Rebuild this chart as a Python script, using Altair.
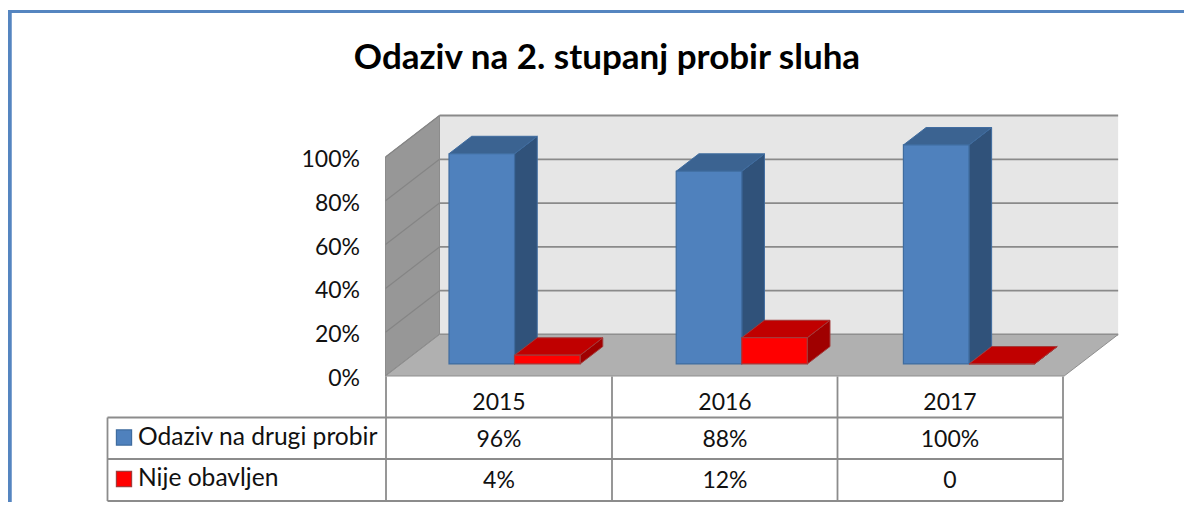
import altair as alt
import pandas as pd

TITLE = "Odaziv na 2. stupanj probir sluha"
YEARS = ["2015", "2016", "2017"]
SERIES = ["Odaziv na drugi probir", "Nije obavljen"]
RESPONSE = [96, 88, 100]
NOT_DONE = [4, 12, 0]
RESPONSE_LABELS = ["96%", "88%", "100%"]
NOT_DONE_LABELS = ["4%", "12%", "0"]
TICKS = [0, 20, 40, 60, 80, 100]

FONT = "Lato"
GRID = "#8a8a8a"
TABLE = "#8c8c8c"

# scale geometry (page px <-> data units)
W, H = 1176, 494
X0, UX = 385.5, 227.2      # page x of category 0, px per category
Y0, UY = 376.0, 2.19       # page y of 0 %, px per percent
DX, DY = 54 / UX, 41.5 / UY  # full depth of the 3-D box in data units
def ux(px): return (px - X0) / UX
def uy(py): return (Y0 - py) / UY
XDOM = [ux(8), ux(8 + W)]
YDOM = [uy(8 + H), uy(8)]
WALL = 2.987
GAP, BAR = 0.2106, 0.2885
D0, D1 = 0.29, 0.71

xs = alt.Scale(domain=XDOM, nice=False, zero=False)
ys = alt.Scale(domain=YDOM, nice=False, zero=False)


def v_rows(face, x0, x1, a0, a1, b0, b1, fill, stroke):
    return [dict(face=face, x=x0, y=a0, y2=a1, fill=fill, stroke=stroke),
            dict(face=face, x=x1, y=b0, y2=b1, fill=fill, stroke=stroke)]


def h_rows(face, y0, y1, a0, a1, b0, b1, fill, stroke):
    return [dict(face=face, y=y0, x=a0, x2=a1, fill=fill, stroke=stroke),
            dict(face=face, y=y1, x=b0, x2=b1, fill=fill, stroke=stroke)]


def area_layer(rows, horizontal):
    df = pd.DataFrame(rows)
    kw = dict(x=alt.X("x:Q", scale=xs, axis=None),
              y=alt.Y("y:Q", scale=ys, axis=None),
              fill=alt.Fill("fill:N", scale=None),
              stroke=alt.Stroke("stroke:N", scale=None),
              detail="face:N")
    if horizontal:
        kw["x2"] = "x2:Q"
        m = alt.Chart(df).mark_area(orient="horizontal", strokeWidth=1, opacity=1, interpolate="linear")
    else:
        kw["y2"] = "y2:Q"
        m = alt.Chart(df).mark_area(orient="vertical", strokeWidth=1, opacity=1, interpolate="linear")
    return m.encode(**kw)


def rules(rows, color, width):
    df = pd.DataFrame(rows)
    return alt.Chart(df).mark_rule(color=color, strokeWidth=width).encode(
        x=alt.X("x:Q", scale=xs, axis=None), x2="x2:Q",
        y=alt.Y("y:Q", scale=ys, axis=None), y2="y2:Q")


def texts(rows, align="center", size=23, **kw):
    df = pd.DataFrame(rows)
    return alt.Chart(df).mark_text(align=align, baseline="middle", font=FONT,
                                   fontSize=size, color="#111111", **kw).encode(
        x=alt.X("x:Q", scale=xs, axis=None),
        y=alt.Y("y:Q", scale=ys, axis=None),
        text="t:N")


# box walls
left_wall = v_rows("left", 0, DX, 0, 100, DY, 100 + DY, "#979797", "#8c8c8c")
floor = h_rows("floor", 0, DY, 0, WALL, DX, WALL + DX, "#b0b0b0", "#8f8f8f")
back = pd.DataFrame([dict(x=DX, x2=WALL + DX, y=DY, y2=100 + DY)])
back_wall = alt.Chart(back).mark_rect(color="#e6e6e6").encode(
    x=alt.X("x:Q", scale=xs, axis=None), x2="x2:Q",
    y=alt.Y("y:Q", scale=ys, axis=None), y2="y2:Q")
grid_back = rules([dict(x=DX, x2=WALL + DX, y=t + DY, y2=t + DY) for t in TICKS], GRID, 1.8)
grid_left = pd.DataFrame(
    [r for t in TICKS for r in (dict(t=t, x=0, y=t), dict(t=t, x=DX, y=t + DY))])
grid_side = alt.Chart(grid_left).mark_line(color="#858585", strokeWidth=1.2).encode(
    x=alt.X("x:Q", scale=xs, axis=None), y=alt.Y("y:Q", scale=ys, axis=None), detail="t:N")

# bars
sides, tops, fronts = [], [], []
COL = [dict(front="#4f81bd", top="#3b6391", side="#30527a", stroke="#3f6c9f"),
       dict(front="#ff0000", top="#c00000", side="#a00000", stroke="#a33a3a")]
dx0, dx1 = D0 * DX, D1 * DX
dy0, dy1 = D0 * DY, D1 * DY
for i in range(len(YEARS)):
    for s, vals in enumerate([RESPONSE, NOT_DONE]):
        v = vals[i]
        c = COL[s]
        xa = i + GAP + s * BAR + dx0
        xb = xa + BAR
        d_x, d_y = dx1 - dx0, dy1 - dy0
        sides += v_rows(f"s{i}{s}", xb, xb + d_x, dy0, dy0 + v, dy0 + d_y, dy0 + v + d_y, c["side"], c["stroke"])
        tops += h_rows(f"t{i}{s}", dy0 + v, dy0 + v + d_y, xa, xb, xa + d_x, xb + d_x, c["top"], c["stroke"])
        fronts.append(dict(x=xa, x2=xb, y=dy0, y2=dy0 + v, fill=c["front"], stroke=c["stroke"]))
front_layer = alt.Chart(pd.DataFrame(fronts)).mark_rect(strokeWidth=1.2).encode(
    x=alt.X("x:Q", scale=xs, axis=None), x2="x2:Q",
    y=alt.Y("y:Q", scale=ys, axis=None), y2="y2:Q",
    fill=alt.Fill("fill:N", scale=None), stroke=alt.Stroke("stroke:N", scale=None))

# data table
col_px = [386, 612, 837.5, 1063]
row_px = [417.5, 459, 501]
t_rows = [dict(x=ux(107.5), x2=ux(1063), y=uy(p), y2=uy(p)) for p in row_px]
t_rows += [dict(x=ux(p), x2=ux(p), y=uy(376.5), y2=uy(501)) for p in col_px]
t_rows += [dict(x=ux(107.5), x2=ux(107.5), y=uy(417.5), y2=uy(501))]
t_rules = rules(t_rows, TABLE, 1.8)

centers = [ux(499), ux(725), ux(950)]
cells = [dict(x=c, y=uy(403), t=y) for c, y in zip(centers, YEARS)]
cells += [dict(x=c, y=uy(439.5), t=y) for c, y in zip(centers, RESPONSE_LABELS)]
cells += [dict(x=c, y=uy(481), t=y) for c, y in zip(centers, NOT_DONE_LABELS)]
cell_text = texts(cells)
series_text = texts([dict(x=ux(138), y=uy(438), t=SERIES[0]),
                     dict(x=ux(138), y=uy(479), t=SERIES[1])], align="left", size=24.6)
keys = pd.DataFrame([dict(x=ux(124), y=uy(437.5), fill=COL[0]["front"], stroke=COL[0]["stroke"]),
                     dict(x=ux(124), y=uy(479), fill=COL[1]["front"], stroke=COL[1]["stroke"])])
key_marks = alt.Chart(keys).mark_point(shape="square", size=230, filled=True, opacity=1, strokeWidth=1.2).encode(
    x=alt.X("x:Q", scale=xs, axis=None), y=alt.Y("y:Q", scale=ys, axis=None),
    fill=alt.Fill("fill:N", scale=None), stroke=alt.Stroke("stroke:N", scale=None))

# y tick labels on the front edge of the box
tick_text = texts([dict(x=ux(360), y=t + uy(379), t=f"{t}%") for t in TICKS], align="right")

# page frame
frame_top = alt.Chart(pd.DataFrame({"a": [0]})).mark_rule(color="#5585c0", strokeWidth=3).encode(
    x=alt.value(0), x2=alt.value(W), y=alt.value(3.5))
frame_left = alt.Chart(pd.DataFrame({"a": [0]})).mark_rule(color="#5585c0", strokeWidth=4.5).encode(
    x=alt.value(1.5), y=alt.value(2), y2=alt.value(H))

chart = alt.layer(
    frame_top, frame_left,
    back_wall, grid_back,
    area_layer(left_wall, False), grid_side,
    area_layer(floor, True),
    t_rules,
    area_layer(sides, False), area_layer(tops, True), front_layer,
    cell_text, series_text, key_marks, tick_text,
).resolve_scale(x="shared", y="shared").properties(
    width=W, height=H,
    padding=0,
    autosize=alt.AutoSizeParams(type="none"),
    title=alt.TitleParams(TITLE, font=FONT, fontSize=35, fontWeight="bold", color="#000000",
                          anchor="middle", frame="group", offset=-68, dx=11),
    background="white",
).configure_view(stroke=None)

chart.save("out.html", embed_options={"renderer": "svg", "actions": False})
